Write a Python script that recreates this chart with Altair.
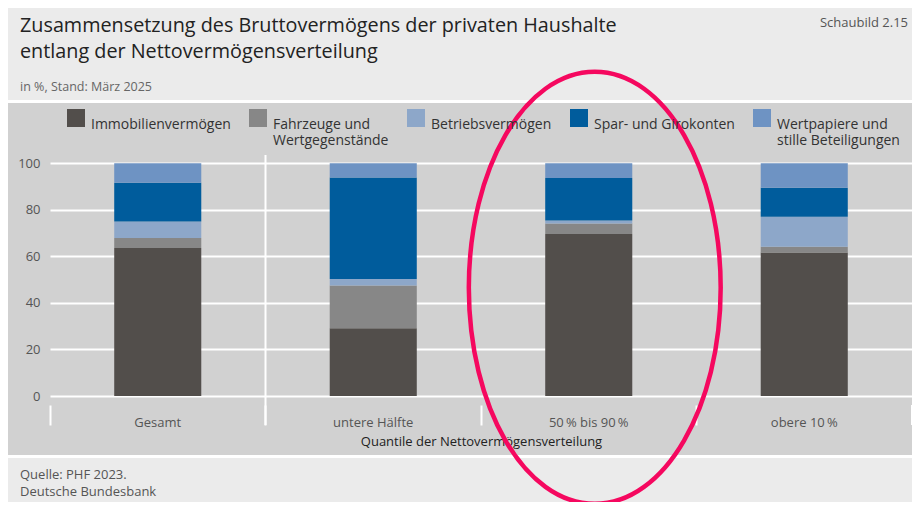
import altair as alt
import pandas as pd

# ---------------- data ----------------
categories = ["Gesamt", "untere Hälfte", "50\u2009% bis 90\u2009%", "obere 10\u2009%"]
components = [
    "Immobilienvermögen",
    "Fahrzeuge und\nWertgegenstände",
    "Betriebsvermögen",
    "Spar- und Girokonten",
    "Wertpapiere und\nstille Beteiligungen",
]
immobilien = [63.6, 29.1, 69.6, 61.7]
fahrzeuge = [4.3, 18.4, 4.5, 2.4]
betrieb = [7.1, 2.8, 1.3, 12.9]
spar = [16.6, 43.6, 18.3, 12.5]
wertpapiere = [8.4, 6.1, 6.3, 10.5]
colors = ["#524e4b", "#878787", "#8da7c9", "#005c9c", "#6e93c3"]
y_ticks = [0, 20, 40, 60, 80, 100]

title_lines = ["Zusammensetzung des Bruttovermögens der privaten Haushalte",
               "entlang der Nettovermögensverteilung"]
subtitle = "in %, Stand: März 2025"
figure_no = "Schaubild 2.15"
footer_lines = ["Quelle: PHF 2023.", "Deutsche Bundesbank"]
x_title = "Quantile der Nettovermögensverteilung"
highlight = [{"Quantil": categories[2], "Anteil": 46.5}]

series = [immobilien, fahrzeuge, betrieb, spar, wertpapiere]
rows = []
for k, (comp, vals) in enumerate(zip(components, series)):
    for cat, v in zip(categories, vals):
        rows.append({"Quantil": cat, "Komponente": comp, "Anteil": v, "Reihenfolge": k})
df = pd.DataFrame(rows)

FONT = "Open Sans"
PANEL = "#d1d1d1"
LIGHT = "#ebebeb"

W, H = 862, 242
xscale = alt.Scale(domain=categories, paddingInner=0, paddingOuter=0)
yscale = alt.Scale(domain=[0, 104], nice=False)


def band(y1, y2, color):
    return alt.Chart(alt.Data(values=[{}])).mark_rect(color=color).encode(
        x=alt.value(-42), x2=alt.value(W), y=alt.value(y1), y2=alt.value(y2)
    )


def label(text, x, y, size, color, align="left", baseline="middle", lh=None):
    kw = dict(align=align, baseline=baseline, fontSize=size, color=color, font=FONT)
    if lh:
        kw["lineHeight"] = lh
    return alt.Chart(alt.Data(values=[{}])).mark_text(**kw).encode(
        x=alt.value(x), y=alt.value(y), text=alt.value(text)
    )


bg = [
    band(-146, -54, LIGHT),
    band(-54, -51, "white"),
    band(301, 304, "white"),
    band(304, 348, LIGHT),
]

texts = [
    label(title_lines, -30, -122, 19.8, "#222222", baseline="alphabetic", lh=26),
    label(subtitle, -30, -67, 12.5, "#666666"),
    label(figure_no, 858, -131, 13, "#555555", align="right"),
    label(footer_lines[0], -30, 321, 13, "#555555"),
    label(footer_lines[1], -30, 338, 13, "#555555"),
]

separator = alt.Chart(alt.Data(values=[{"Quantil": categories[1]}])).mark_rule(
    color="white", strokeWidth=2
).encode(
    x=alt.X("Quantil:N", scale=xscale, bandPosition=0, title=x_title),
    y=alt.value(1), y2=alt.value(271),
)
end_tick = alt.Chart(alt.Data(values=[{"Quantil": categories[3]}])).mark_rule(
    color="white", strokeWidth=2
).encode(
    x=alt.X("Quantil:N", scale=xscale, bandPosition=1, title=x_title),
    y=alt.value(251), y2=alt.value(271),
)

bars = alt.Chart(df).mark_bar(width=alt.RelativeBandSize(0.404)).encode(
    x=alt.X(
        "Quantil:N", scale=xscale, title=x_title,
        axis=alt.Axis(
            bandPosition=0, offset=9, domain=False, grid=False,
            ticks=True, tickColor="white", tickWidth=2, tickSize=20,
            labelAngle=0, labelAlign="center", labelBaseline="middle",
            labelPadding=-3,
            labelFontSize=13, labelColor="#555555", labelFont=FONT,
            titleFontSize=13, titleFontWeight="normal", titleColor="#222222",
            titleFont=FONT, titlePadding=6,
        ),
    ),
    y=alt.Y(
        "Anteil:Q", stack="zero", scale=yscale, title=None,
        axis=alt.Axis(
            values=y_ticks, domain=False, ticks=False, grid=True,
            gridColor="white", gridWidth=2, labelPadding=10,
            labelFontSize=13, labelColor="#555555", labelFont=FONT,
        ),
    ),
    color=alt.Color(
        "Komponente:N",
        scale=alt.Scale(domain=components, range=colors),
        legend=alt.Legend(
            title=None, orient="none", legendX=17, legendY=-45,
            direction="horizontal", columns=5, columnPadding=18,
            symbolType="square", symbolSize=324, symbolStrokeWidth=0,
            symbolOpacity=1, labelFontSize=14, labelColor="#333333",
            labelFont=FONT, labelOffset=6, labelLimit=300, padding=0,
            labelBaseline="top",
            labelExpr="indexof(datum.label, '\\n') < 0 ? [datum.label, ''] : split(datum.label, '\\n')",
        ),
    ),
    order=alt.Order("Reihenfolge:Q", sort="ascending"),
)

ellipse_path = ("M0,-1 C0.325,-1 0.583,-0.552 0.583,0 C0.583,0.552 0.325,1 0,1 "
                "C-0.325,1 -0.583,0.552 -0.583,0 C-0.583,-0.552 -0.325,-1 0,-1 Z")
ellipse = alt.Chart(alt.Data(values=highlight)).mark_point(
    shape=ellipse_path, size=186624, filled=False, stroke="#f5085f",
    strokeWidth=4.5, opacity=1, xOffset=6,
).encode(
    x=alt.X("Quantil:N", scale=xscale, title=x_title),
    y=alt.Y("Anteil:Q", scale=yscale, title=None),
)

chart = alt.layer(*bg, separator, end_tick, bars, ellipse, *texts).properties(
    width=W, height=H,
    padding={"left": 42, "top": 146, "right": 0, "bottom": 106},
    autosize=alt.AutoSizeParams(type="none"),
    background=PANEL,
).configure(font=FONT).configure_view(stroke=None)

chart.save("out.html", embed_options={"renderer": "svg", "actions": False})
